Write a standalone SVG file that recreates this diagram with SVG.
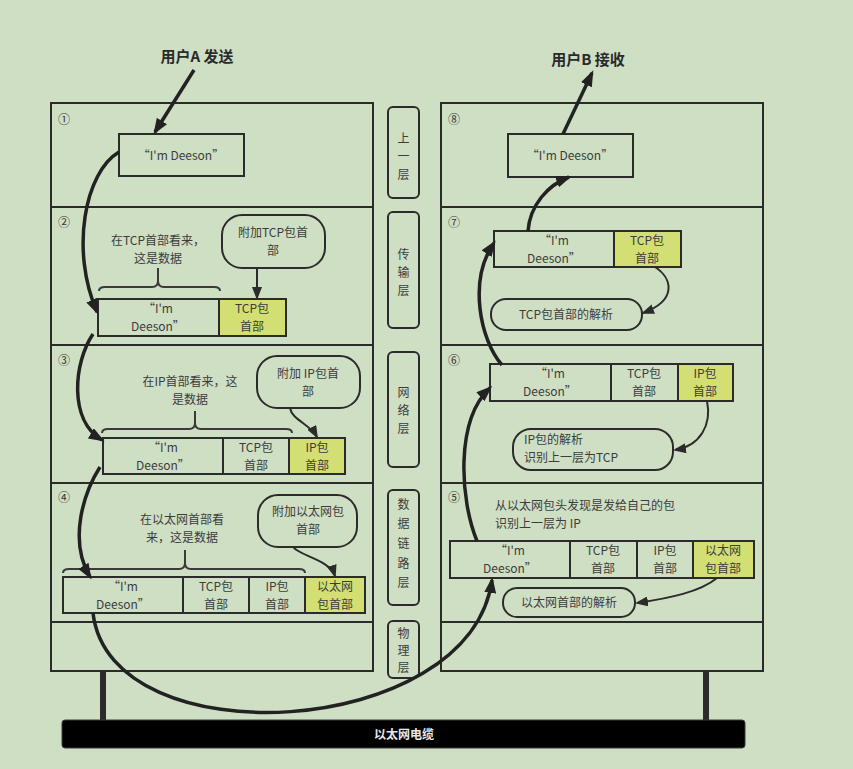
<svg xmlns="http://www.w3.org/2000/svg" width="853" height="769" viewBox="0 0 853 769">
<defs>
<style>
.t{font-family:"Noto Sans CJK SC","Noto Sans",sans-serif;font-size:12px;fill:#3c3c3c;text-anchor:middle}
.tl{text-anchor:start}
.num{font-family:"Noto Sans CJK SC","DejaVu Sans",sans-serif;font-size:12px;fill:#333}
.title{font-family:"Noto Sans CJK SC",sans-serif;font-size:15px;font-weight:bold;fill:#2a2a2a;text-anchor:middle}
.panel{fill:none;stroke:#2b2b2b;stroke-width:2}
.cell{fill:#cfdfc4;stroke:#2b2b2b;stroke-width:2}
.hdr{fill:#d3df72;stroke:#2b2b2b;stroke-width:2}
.bub{fill:#cfdfc4;stroke:#2b2b2b;stroke-width:2}
.flow{fill:none;stroke:#222;stroke-width:3.5;marker-end:url(#ah)}
.thin{fill:none;stroke:#2b2b2b;stroke-width:2;marker-end:url(#as)}
.brace{fill:none;stroke:#3a3a3a;stroke-width:2}
</style>
<marker id="ah" markerUnits="userSpaceOnUse" markerWidth="16" markerHeight="12" refX="13" refY="6" orient="auto"><path d="M0,0 L16,6 L0,12 z" fill="#222"/></marker>
<marker id="as" markerUnits="userSpaceOnUse" markerWidth="13" markerHeight="10" refX="11" refY="5" orient="auto"><path d="M0,0 L13,5 L0,10 z" fill="#2b2b2b"/></marker>
</defs>
<rect width="853" height="769" fill="#cfdfc4"/>

<g id="titles">
<text class="title" x="197" y="62">用户A 发送</text>
<text class="title" x="588" y="65">用户B 接收</text>
</g>

<g id="left-stack">
<rect class="panel" x="51" y="103" width="322" height="568"/>
<line class="panel" x1="51" y1="207" x2="373" y2="207"/>
<line class="panel" x1="51" y1="345" x2="373" y2="345"/>
<line class="panel" x1="51" y1="483" x2="373" y2="483"/>
<line class="panel" x1="51" y1="622" x2="373" y2="622"/>
<text class="num" x="58" y="124">①</text>
<text class="num" x="58" y="227">②</text>
<text class="num" x="58" y="365">③</text>
<text class="num" x="58" y="502">④</text>
</g>

<g id="right-stack">
<rect class="panel" x="441" y="103" width="322" height="568"/>
<line class="panel" x1="441" y1="207" x2="763" y2="207"/>
<line class="panel" x1="441" y1="345" x2="763" y2="345"/>
<line class="panel" x1="441" y1="483" x2="763" y2="483"/>
<line class="panel" x1="441" y1="622" x2="763" y2="622"/>
<text class="num" x="448" y="124">⑧</text>
<text class="num" x="448" y="227">⑦</text>
<text class="num" x="448" y="365">⑥</text>
<text class="num" x="448" y="502">⑤</text>
</g>

<g id="layer-labels">
<rect class="bub" x="388" y="107" width="31" height="91" rx="5"/>
<text class="t"><tspan x="403.5" y="143">上</tspan><tspan x="403.5" y="161">一</tspan><tspan x="403.5" y="179">层</tspan></text>
<rect class="bub" x="388" y="212" width="31" height="116" rx="5"/>
<text class="t"><tspan x="403.5" y="259">传</tspan><tspan x="403.5" y="277">输</tspan><tspan x="403.5" y="295">层</tspan></text>
<rect class="bub" x="388" y="352" width="31" height="115" rx="5"/>
<text class="t"><tspan x="403.5" y="397">网</tspan><tspan x="403.5" y="415">络</tspan><tspan x="403.5" y="433">层</tspan></text>
<rect class="bub" x="388" y="490" width="31" height="115" rx="5"/>
<text class="t"><tspan x="403.5" y="509">数</tspan><tspan x="403.5" y="528">据</tspan><tspan x="403.5" y="548">链</tspan><tspan x="403.5" y="568">路</tspan><tspan x="403.5" y="587">层</tspan></text>
<rect class="bub" x="388" y="621" width="31" height="57" rx="5"/>
<text class="t"><tspan x="403.5" y="638">物</tspan><tspan x="403.5" y="655">理</tspan><tspan x="403.5" y="672">层</tspan></text>
</g>

<g id="n1">
<rect class="cell" x="119" y="134" width="125" height="42"/>
<text class="t" x="181" y="160">“I'm Deeson”</text>
</g>

<g id="n2">
<text class="t"><tspan x="158" y="245">在TCP首部看来，</tspan><tspan x="158" y="263">这是数据</tspan></text>
<path class="brace" d="M99,291 Q99,287 105,287 L152,287 Q158,287 158,281 L158,268 L158,281 Q158,287 164,287 L214,287 Q220,287 220,291"/>
<rect class="bub" x="222" y="215" width="103" height="53" rx="20"/>
<text class="t"><tspan x="273" y="237">附加TCP包首</tspan><tspan x="273" y="255">部</tspan></text>
<rect class="cell" x="98" y="299" width="121" height="37"/>
<rect class="hdr" x="219" y="299" width="67" height="37"/>
<text class="t"><tspan x="158" y="313">“I'm</tspan><tspan x="158" y="331">Deeson”</tspan></text>
<text class="t"><tspan x="252" y="313">TCP包</tspan><tspan x="252" y="331">首部</tspan></text>
</g>

<g id="n3">
<text class="t"><tspan x="190" y="386">在IP首部看来，这</tspan><tspan x="190" y="404">是数据</tspan></text>
<path class="brace" d="M102,433 Q102,429 108,429 L189,429 Q195,429 195,423 L195,411 L195,423 Q195,429 201,429 L286,429 Q292,429 292,433"/>
<rect class="bub" x="257" y="356" width="103" height="52" rx="20"/>
<text class="t"><tspan x="308" y="378">附加 IP包首</tspan><tspan x="308" y="396">部</tspan></text>
<rect class="cell" x="103" y="438" width="120" height="36"/>
<rect class="cell" x="223" y="438" width="66" height="36"/>
<rect class="hdr" x="289" y="438" width="56" height="36"/>
<text class="t"><tspan x="163" y="452">“I'm</tspan><tspan x="163" y="470">Deeson”</tspan></text>
<text class="t"><tspan x="256" y="452">TCP包</tspan><tspan x="256" y="470">首部</tspan></text>
<text class="t"><tspan x="317" y="452">IP包</tspan><tspan x="317" y="470">首部</tspan></text>
</g>

<g id="n4">
<text class="t"><tspan x="182" y="524">在以太网首部看</tspan><tspan x="182" y="542">来，这是数据</tspan></text>
<path class="brace" d="M63,573 Q63,569 69,569 L179,569 Q185,569 185,563 L185,550 L185,563 Q185,569 191,569 L299,569 Q305,569 305,573"/>
<rect class="bub" x="258" y="495" width="99" height="52" rx="20"/>
<text class="t"><tspan x="308" y="516">附加以太网包</tspan><tspan x="308" y="534">首部</tspan></text>
<rect class="cell" x="63" y="577" width="120" height="36"/>
<rect class="cell" x="183" y="577" width="66" height="36"/>
<rect class="cell" x="249" y="577" width="56" height="36"/>
<rect class="hdr" x="305" y="577" width="60" height="36"/>
<text class="t"><tspan x="123" y="591">“I'm</tspan><tspan x="123" y="609">Deeson”</tspan></text>
<text class="t"><tspan x="216" y="591">TCP包</tspan><tspan x="216" y="609">首部</tspan></text>
<text class="t"><tspan x="277" y="591">IP包</tspan><tspan x="277" y="609">首部</tspan></text>
<text class="t"><tspan x="335" y="591">以太网</tspan><tspan x="335" y="609">包首部</tspan></text>
</g>

<g id="n8">
<rect class="cell" x="508" y="134" width="125" height="43"/>
<text class="t" x="570" y="160">“I'm Deeson”</text>
</g>

<g id="n7">
<rect class="cell" x="494" y="231" width="120" height="36"/>
<rect class="hdr" x="614" y="231" width="67" height="36"/>
<text class="t"><tspan x="554" y="245">“I'm</tspan><tspan x="554" y="263">Deeson”</tspan></text>
<text class="t"><tspan x="647" y="245">TCP包</tspan><tspan x="647" y="263">首部</tspan></text>
<rect class="bub" x="491" y="299" width="151" height="31" rx="15"/>
<text class="t" x="566" y="319">TCP包首部的解析</text>
</g>

<g id="n6">
<rect class="cell" x="490" y="364" width="121" height="37"/>
<rect class="cell" x="611" y="364" width="67" height="37"/>
<rect class="hdr" x="678" y="364" width="55" height="37"/>
<text class="t"><tspan x="550" y="378">“I'm</tspan><tspan x="550" y="396">Deeson”</tspan></text>
<text class="t"><tspan x="644" y="378">TCP包</tspan><tspan x="644" y="396">首部</tspan></text>
<text class="t"><tspan x="705" y="378">IP包</tspan><tspan x="705" y="396">首部</tspan></text>
<rect class="bub" x="513" y="429" width="160" height="41" rx="18"/>
<text class="t tl"><tspan x="524" y="444">IP包的解析</tspan><tspan x="524" y="462">识别上一层为TCP</tspan></text>
</g>

<g id="n5">
<text class="t tl"><tspan x="495" y="510">从以太网包头发现是发给自己的包</tspan><tspan x="495" y="528">识别上一层为 IP</tspan></text>
<rect class="cell" x="450" y="541" width="120" height="37"/>
<rect class="cell" x="570" y="541" width="67" height="37"/>
<rect class="cell" x="637" y="541" width="56" height="37"/>
<rect class="hdr" x="693" y="541" width="61" height="37"/>
<text class="t"><tspan x="510" y="555">“I'm</tspan><tspan x="510" y="573">Deeson”</tspan></text>
<text class="t"><tspan x="603" y="555">TCP包</tspan><tspan x="603" y="573">首部</tspan></text>
<text class="t"><tspan x="665" y="555">IP包</tspan><tspan x="665" y="573">首部</tspan></text>
<text class="t"><tspan x="723" y="555">以太网</tspan><tspan x="723" y="573">包首部</tspan></text>
<rect class="bub" x="503" y="588" width="132" height="29" rx="14"/>
<text class="t" x="569" y="607">以太网首部的解析</text>
</g>

<g id="cable">
<rect x="100" y="671" width="6" height="50" fill="#2b2b2b"/>
<rect x="703" y="671" width="6" height="50" fill="#2b2b2b"/>
<rect x="62" y="720" width="683" height="28" rx="3" fill="#000" stroke="#3a3a3a" stroke-width="1"/>
<text class="t" x="404" y="739" style="fill:#e8e8e8;font-weight:bold">以太网电缆</text>
</g>

<g id="connectors">
<path class="flow" d="M194,70 L155,132"/>
<path class="flow" d="M119,152 C85,172 70,250 97,312"/>
<path class="thin" d="M257,268 L257,298"/>
<path class="flow" d="M93,334 C74,362 68,420 102,440"/>
<path class="thin" d="M290,408 C292,420 310,424 317,437"/>
<path class="flow" d="M100,467 C84,492 68,540 90,577"/>
<path class="thin" d="M293,547 C300,556 330,560 335,576"/>
<path class="flow" d="M93,613 C110,760 470,740 492,580"/>
<path class="flow" d="M477,541 C460,500 455,420 490,388"/>
<path class="thin" d="M717,578 C700,592 670,598 637,603"/>
<path class="thin" d="M707,401 C712,425 700,446 675,450"/>
<path class="flow" d="M502,365 C480,340 468,280 494,243"/>
<path class="thin" d="M655,267 C672,278 678,300 643,313"/>
<path class="flow" d="M528,231 C530,205 548,185 569,177"/>
<path class="flow" d="M563,134 L592,73"/>
</g>
</svg>
